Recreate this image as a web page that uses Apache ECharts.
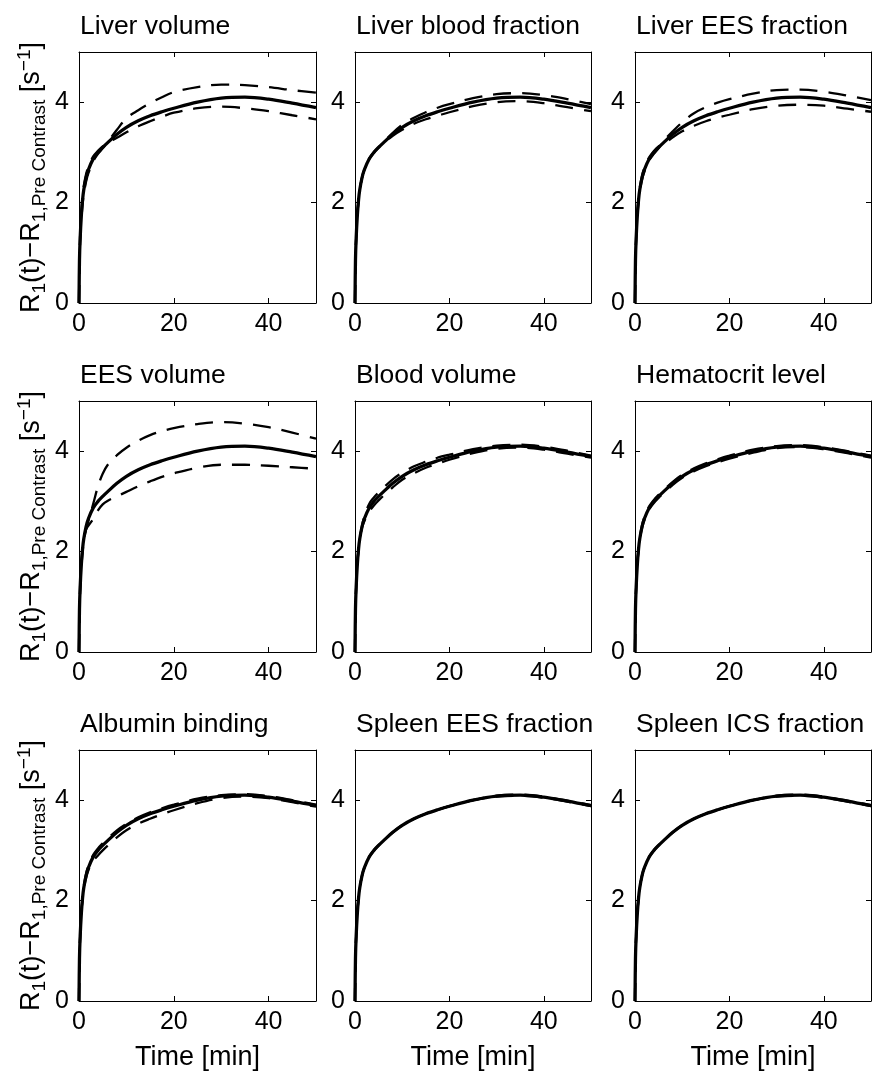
<!DOCTYPE html>
<html><head><meta charset="utf-8">
<script src="https://cdn.jsdelivr.net/npm/echarts@6/dist/echarts.min.js"></script>
<style>html,body{margin:0;padding:0;background:#fff}#c{width:875px;height:1073px}</style>
</head><body><div id="c"></div>
<script>
const timeMin = [0,0.1,0.25,0.5,0.75,1,1.5,2,3,4,5,6,8,10,12.5,15,17.5,20,25,30,35,40,45,50];
const reference = [0,0.85,1.3,1.75,2.05,2.25,2.5,2.66,2.87,3.0,3.1,3.19,3.36,3.5,3.63,3.73,3.81,3.88,4.0,4.08,4.1,4.06,3.98,3.89];
const panelTitles = ['Liver volume','Liver blood fraction','Liver EES fraction','EES volume','Blood volume','Hematocrit level','Albumin binding','Spleen EES fraction','Spleen ICS fraction'];
const xTicks = [0,20,40];
const yTicks = [0,2,4];
const xLabel = 'Time [min]';

const liverVolumeHigh = [0,0.8,1.22,1.66,1.96,2.16,2.42,2.59,2.82,2.97,3.08,3.2,3.45,3.68,3.84,3.98,4.1,4.2,4.3,4.35,4.34,4.3,4.24,4.19];
const liverVolumeLow  = [0,0.9,1.38,1.84,2.14,2.33,2.57,2.72,2.92,3.03,3.12,3.19,3.29,3.4,3.52,3.62,3.71,3.79,3.88,3.91,3.88,3.82,3.74,3.66];
const liverBloodHigh  = [0,0.85,1.3,1.75,2.05,2.25,2.5,2.66,2.87,3.0,3.1,3.2,3.39,3.55,3.69,3.8,3.89,3.96,4.08,4.16,4.18,4.14,4.06,3.96];
const liverBloodLow   = [0,0.85,1.3,1.75,2.05,2.25,2.5,2.66,2.87,3.0,3.1,3.18,3.33,3.45,3.57,3.66,3.73,3.8,3.92,4.0,4.02,3.98,3.9,3.82];
const liverEesHigh    = [0,0.82,1.26,1.71,2.01,2.21,2.46,2.62,2.84,2.97,3.08,3.22,3.42,3.6,3.78,3.9,3.99,4.06,4.17,4.24,4.25,4.21,4.13,4.04];
const liverEesLow     = [0,0.88,1.34,1.79,2.09,2.29,2.54,2.7,2.9,3.03,3.12,3.16,3.3,3.42,3.53,3.62,3.69,3.75,3.86,3.93,3.95,3.93,3.87,3.81];
const eesVolumeHigh   = [0,0.8,1.2,1.68,1.98,2.2,2.45,2.62,2.95,3.3,3.55,3.72,3.92,4.07,4.21,4.32,4.4,4.46,4.54,4.58,4.55,4.48,4.37,4.25];
const eesVolumeLow    = [0,0.88,1.35,1.8,2.08,2.27,2.44,2.52,2.65,2.82,2.94,3.01,3.1,3.19,3.3,3.4,3.49,3.56,3.67,3.73,3.73,3.71,3.68,3.65];
const bloodVolumeHigh = [0,0.85,1.3,1.75,2.05,2.25,2.52,2.71,2.95,3.08,3.18,3.27,3.44,3.57,3.7,3.79,3.87,3.93,4.04,4.11,4.13,4.09,4.01,3.91];
const bloodVolumeLow  = [0,0.85,1.3,1.75,2.05,2.25,2.48,2.61,2.79,2.92,3.02,3.11,3.28,3.43,3.56,3.67,3.75,3.83,3.96,4.05,4.07,4.03,3.95,3.87];
const hematocritHigh  = [0,0.85,1.3,1.76,2.07,2.27,2.53,2.69,2.9,3.03,3.13,3.22,3.39,3.53,3.66,3.76,3.84,3.91,4.03,4.1,4.12,4.08,4.0,3.91];
const hematocritLow   = [0,0.85,1.3,1.74,2.03,2.23,2.47,2.63,2.84,2.97,3.07,3.16,3.33,3.47,3.6,3.7,3.78,3.85,3.97,4.06,4.08,4.04,3.96,3.87];
const albuminHigh     = [0,0.85,1.3,1.76,2.07,2.28,2.54,2.7,2.91,3.04,3.14,3.23,3.4,3.53,3.66,3.76,3.84,3.91,4.03,4.1,4.12,4.08,4.0,3.91];
const albuminLow      = [0,0.85,1.3,1.75,2.03,2.22,2.45,2.61,2.79,2.9,3.0,3.09,3.26,3.4,3.53,3.63,3.72,3.8,3.94,4.04,4.07,4.04,3.96,3.87];
const spleenEesHigh   = [0,0.85,1.3,1.75,2.05,2.25,2.5,2.66,2.87,3.0,3.1,3.19,3.36,3.5,3.63,3.73,3.81,3.88,4.0,4.09,4.11,4.07,3.99,3.9];
const spleenEesLow    = [0,0.85,1.3,1.75,2.05,2.25,2.5,2.66,2.87,3.0,3.1,3.19,3.36,3.5,3.63,3.73,3.81,3.88,4.0,4.07,4.09,4.05,3.97,3.88];
const spleenIcsHigh   = [0,0.85,1.3,1.75,2.05,2.25,2.5,2.66,2.87,3.0,3.1,3.19,3.36,3.5,3.63,3.73,3.81,3.88,4.0,4.09,4.11,4.07,3.99,3.9];
const spleenIcsLow    = [0,0.85,1.3,1.75,2.05,2.25,2.5,2.66,2.87,3.0,3.1,3.19,3.36,3.5,3.63,3.73,3.81,3.88,4.0,4.07,4.09,4.05,3.97,3.88];

const dashedPairs = [
  [liverVolumeHigh, liverVolumeLow], [liverBloodHigh, liverBloodLow], [liverEesHigh, liverEesLow],
  [eesVolumeHigh, eesVolumeLow], [bloodVolumeHigh, bloodVolumeLow], [hematocritHigh, hematocritLow],
  [albuminHigh, albuminLow], [spleenEesHigh, spleenEesLow], [spleenIcsHigh, spleenIcsLow]
];

const FONT = '"Liberation Sans", Arial, Helvetica, sans-serif';
const INK = '#000';
const colLeft = [79, 355, 635];
const colWidth = [237, 236, 236];
const rowTop = [52, 401, 750];
const gridH = 251;

const grids = [], xAxes = [], yAxes = [], titles = [], series = [];
const toPts = arr => timeMin.map((t, k) => [t, arr[k]]);
const yName = '{m|R}{s|1}{m|(t)\u2212R}{s|1,Pre Contrast}{m| [s}{u|\u22121}{m|]}';

for (let i = 0; i < 9; i++) {
  const row = Math.floor(i / 3), col = i % 3;
  grids.push({left: colLeft[col], top: rowTop[row], width: colWidth[col], height: gridH, containLabel: false});
  titles.push({text: panelTitles[i], left: colLeft[col] + 1, top: rowTop[row] - 39, padding: 0,
    textStyle: {fontSize: 26.5, fontWeight: 'normal', fontFamily: FONT, color: INK}});
  const axisLine = {show: true, onZero: false, lineStyle: {color: INK, width: 1}};
  const tick = {show: true, inside: true, length: 5, lineStyle: {color: INK, width: 1}};
  xAxes.push({type: 'value', gridIndex: i, position: 'bottom', min: 0, max: 50, interval: 20,
    axisLine, axisTick: tick, splitLine: {show: false},
    axisLabel: {fontSize: 25, fontFamily: FONT, color: INK, margin: 9,
      formatter: v => xTicks.includes(v) ? String(v) : ''},
    name: row === 2 ? xLabel : '', nameLocation: 'middle', nameGap: 43,
    nameTextStyle: {fontSize: 27, fontFamily: FONT, color: INK}});
  xAxes.push({type: 'value', gridIndex: i, position: 'top', min: 0, max: 50, interval: 20,
    axisLine, axisTick: tick, splitLine: {show: false}, axisLabel: {show: false}});
  yAxes.push({type: 'value', gridIndex: i, position: 'left', min: 0, max: 5, interval: 2,
    axisLine, axisTick: tick, splitLine: {show: false},
    axisLabel: {fontSize: 25, fontFamily: FONT, color: INK, margin: 10,
      formatter: v => yTicks.includes(v) ? String(v) : ''},
    name: col === 0 ? yName : '', nameLocation: 'middle', nameRotate: 90, nameGap: 30,
    nameTextStyle: {fontSize: 27, fontFamily: FONT, color: INK,
      rich: {
        m: {fontSize: 27, lineHeight: 34, fontFamily: FONT, color: INK, verticalAlign: 'middle'},
        s: {fontSize: 19, lineHeight: 20, fontFamily: FONT, color: INK, verticalAlign: 'bottom'},
        u: {fontSize: 19, lineHeight: 16, fontFamily: FONT, color: INK, verticalAlign: 'top'}
      }}});
  yAxes.push({type: 'value', gridIndex: i, position: 'right', min: 0, max: 5, interval: 2,
    axisLine, axisTick: tick, splitLine: {show: false}, axisLabel: {show: false}});

  dashedPairs[i].forEach(arr => series.push({type: 'line', xAxisIndex: 2 * i, yAxisIndex: 2 * i,
    data: toPts(arr), showSymbol: false, smooth: 0.35, silent: true,
    lineStyle: {color: INK, width: 2.3, type: [18, 11]}}));
  series.push({type: 'line', xAxisIndex: 2 * i, yAxisIndex: 2 * i, data: toPts(reference),
    showSymbol: false, smooth: 0.35, silent: true, lineStyle: {color: INK, width: 3.3}});
}

const chart = echarts.init(document.getElementById('c'), null, {renderer: 'canvas'});
chart.setOption({animation: false, backgroundColor: '#fff', title: titles, grid: grids,
  xAxis: xAxes, yAxis: yAxes, series});
</script></body></html>
